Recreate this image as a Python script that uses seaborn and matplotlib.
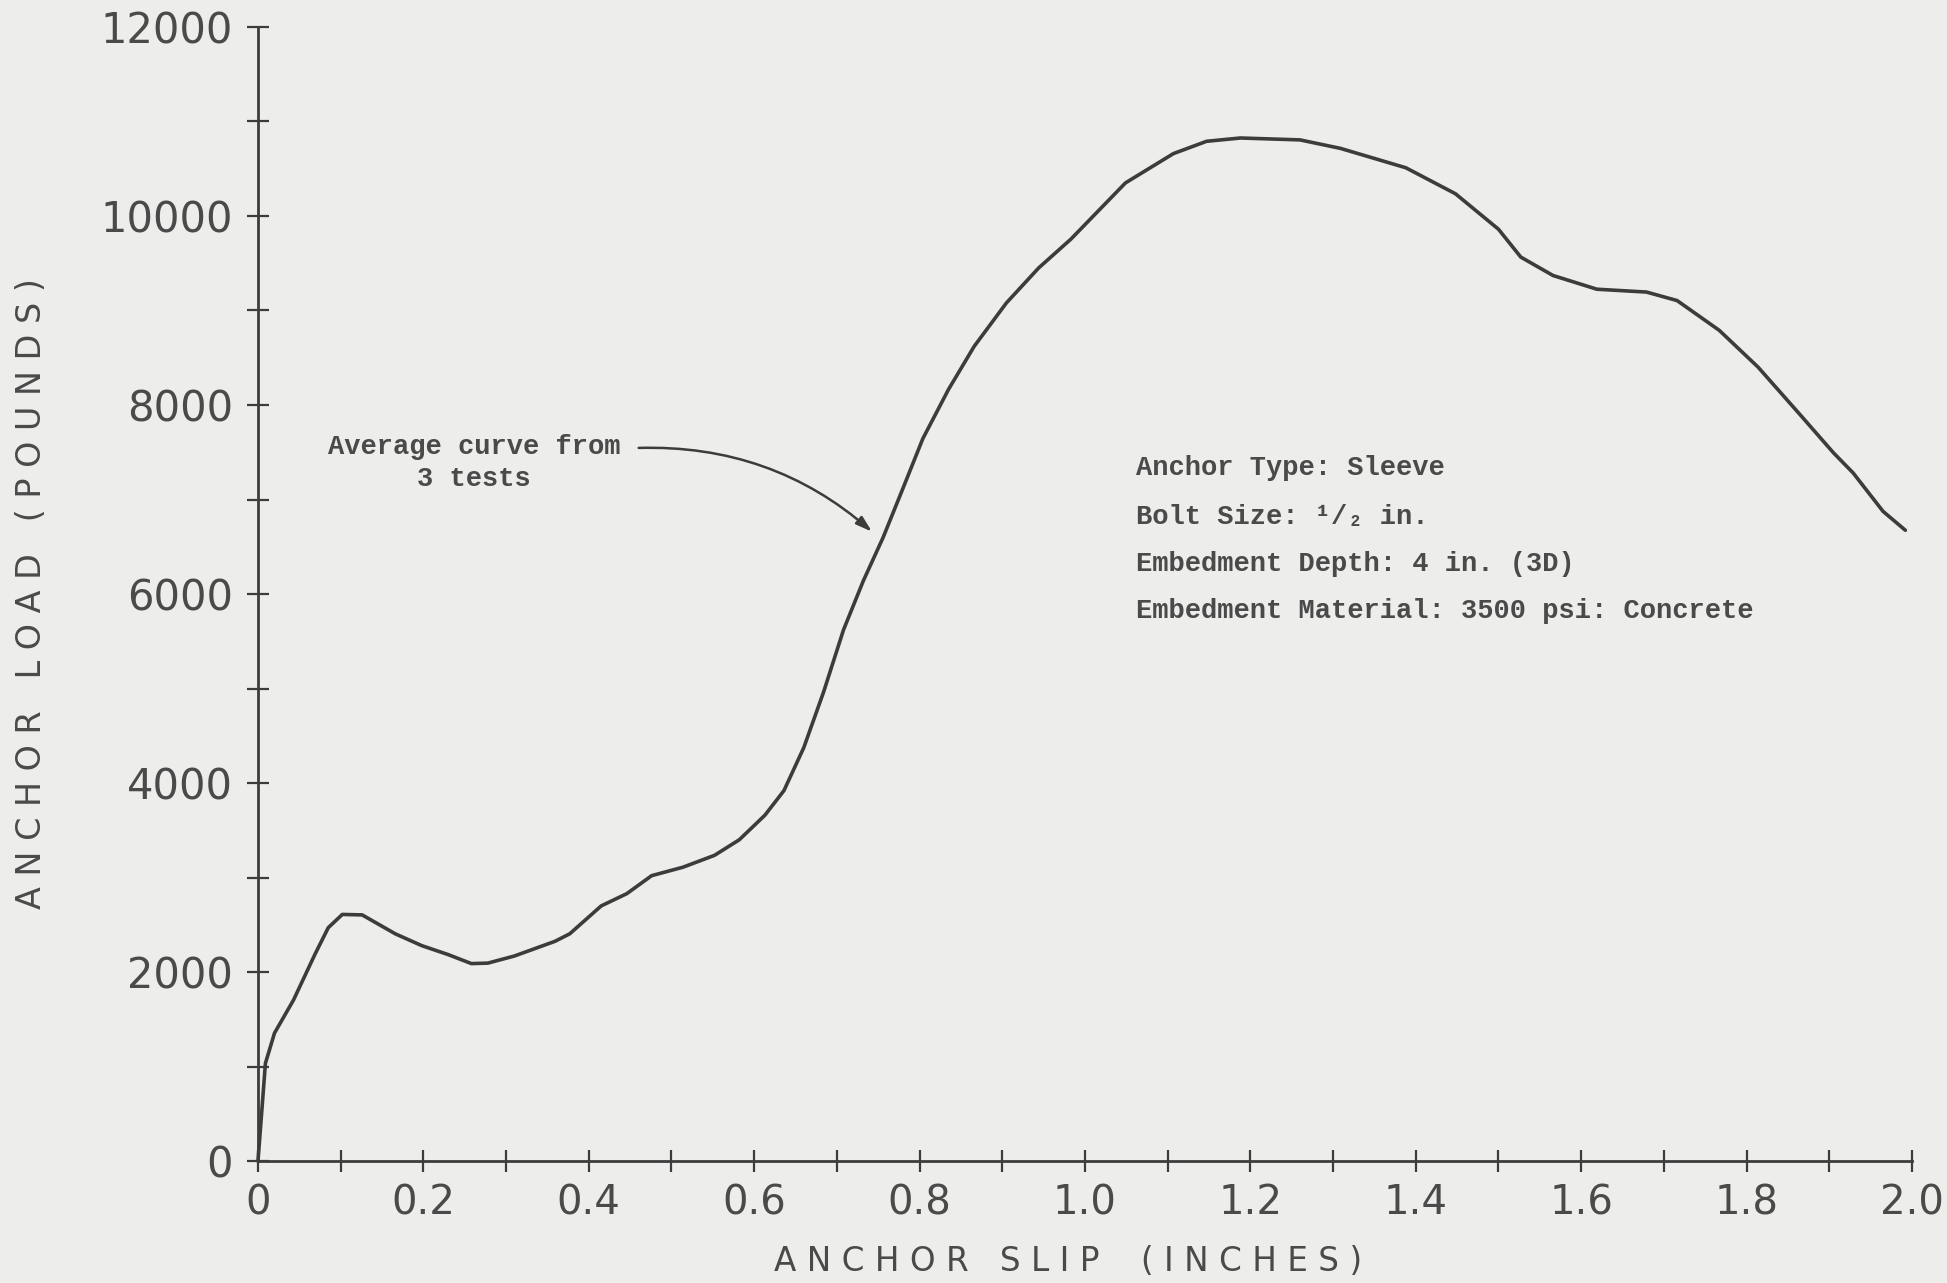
import numpy as np
import pandas as pd
import matplotlib
matplotlib.use("Agg")
import matplotlib.pyplot as plt
import seaborn as sns
from matplotlib.ticker import MultipleLocator, FixedLocator

# values (slip in inches, load in pounds)
slip = [0.0, 0.009, 0.020, 0.043, 0.069, 0.085, 0.102, 0.126, 0.166, 0.198,
        0.230, 0.258, 0.278, 0.310, 0.359, 0.377, 0.415, 0.446, 0.476, 0.514,
        0.552, 0.582, 0.613, 0.636, 0.660, 0.684, 0.708, 0.732, 0.756, 0.780,
        0.804, 0.835, 0.866, 0.905, 0.944, 0.983, 1.049, 1.107, 1.147, 1.188,
        1.260, 1.309, 1.388, 1.448, 1.500, 1.527, 1.566, 1.619, 1.679, 1.716,
        1.767, 1.814, 1.865, 1.905, 1.929, 1.965, 1.992]
load = [0, 1035, 1355, 1705, 2190, 2470, 2610, 2605, 2405, 2280,
        2185, 2090, 2095, 2170, 2325, 2405, 2700, 2830, 3020, 3110,
        3235, 3400, 3660, 3920, 4375, 4965, 5620, 6140, 6600, 7120,
        7645, 8165, 8620, 9080, 9450, 9755, 10350, 10660, 10790, 10825,
        10805, 10715, 10510, 10235, 9860, 9565, 9370, 9225, 9195, 9105,
        8790, 8400, 7895, 7495, 7280, 6875, 6675]

x_labels = ["0", "0.2", "0.4", "0.6", "0.8", "1.0", "1.2", "1.4", "1.6", "1.8", "2.0"]
y_labels = ["0", "2000", "4000", "6000", "8000", "10000", "12000"]

info_lines = ["Anchor Type: Sleeve",
              "Bolt Size: \u00b9/\u2082 in.",
              "Embedment Depth: 4 in. (3D)",
              "Embedment Material: 3500 psi: Concrete"]
info_y = [7330, 6817, 6317, 5817]

df = pd.DataFrame({"slip": slip, "load": load})

bg = "#ededeb"
ink = "#3c3c3c"
txt = "#4a4a4a"

sns.set_theme(style="ticks")
plt.rcParams["font.family"] = ["DejaVu Sans"]

fig = plt.figure(figsize=(19.47, 12.83), dpi=100, facecolor=bg)
ax = fig.add_axes([0.1325, 0.095, 0.8495, 0.884])
ax.set_facecolor(bg)

sns.lineplot(data=df, x="slip", y="load", sort=False, color=ink, lw=2.6, ax=ax)
for l in ax.lines:
    l.set_clip_on(False)
    l.set_solid_joinstyle("round")

ax.set_xlim(0, 2.0)
ax.set_ylim(0, 12000)

ax.xaxis.set_major_locator(FixedLocator(np.arange(0, 2.01, 0.2)))
ax.xaxis.set_minor_locator(MultipleLocator(0.1))
ax.set_xticklabels(x_labels)
ax.yaxis.set_major_locator(FixedLocator(np.arange(0, 12001, 2000)))
ax.yaxis.set_minor_locator(MultipleLocator(1000))
ax.set_yticklabels(y_labels)

ax.tick_params(which="both", direction="inout", length=16, width=1.6, color=ink)
ax.tick_params(axis="y", which="major", labelsize=30, labelcolor=txt, pad=10)
ax.tick_params(axis="x", which="major", labelsize=29, labelcolor=txt, pad=8)

for side in ["top", "right"]:
    ax.spines[side].set_visible(False)
for side in ["left", "bottom"]:
    ax.spines[side].set_linewidth(2.0)
    ax.spines[side].set_color(ink)

ax.set_xlabel("A N C H O R   S L I P    ( I N C H E S )", fontsize=23.5, color=txt)
ax.set_ylabel("A N C H O R   L O A D   ( P O U N D S )", fontsize=24, color=txt)
ax.xaxis.set_label_coords(0.49, -0.074)
ax.yaxis.set_label_coords(-0.127, 0.5)

mono = ["Liberation Mono", "DejaVu Sans Mono"]
ax.text(0.261, 7385, "Average curve from\n3 tests", ha="center", va="center",
        fontsize=19.5, family=mono, fontweight="bold", color=txt, linespacing=1.3)
ax.annotate("", xy=(0.745, 6640), xytext=(0.457, 7545),
            arrowprops=dict(arrowstyle="-|>,head_length=0.8,head_width=0.25",
                            connectionstyle="arc3,rad=-0.2", color=ink, lw=1.8))

for line, yv in zip(info_lines, info_y):
    ax.text(1.062, yv, line, ha="left", va="center", fontsize=19.5,
            family=mono, fontweight="bold", color=txt)

fig.savefig("out.png", dpi=100, facecolor=bg)
